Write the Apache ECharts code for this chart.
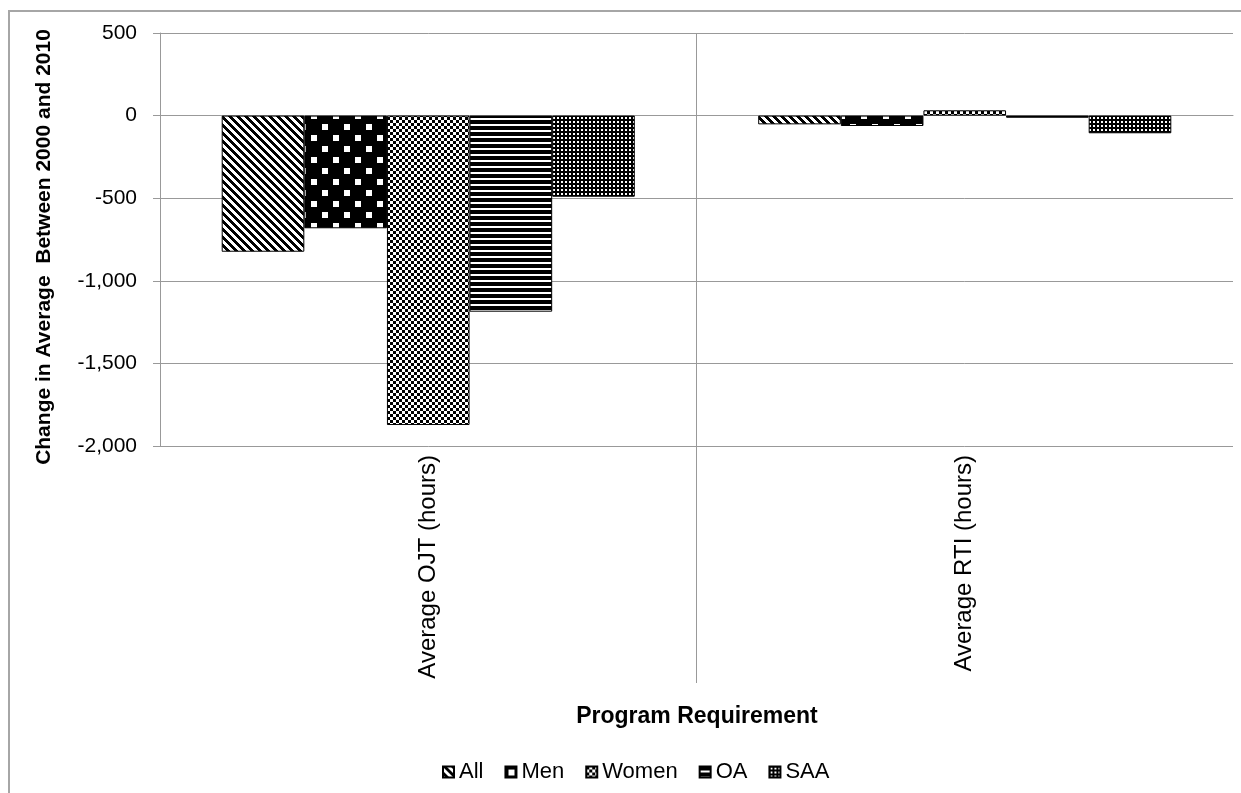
<!DOCTYPE html>
<html>
<head>
<meta charset="utf-8">
<script src="https://cdn.jsdelivr.net/npm/echarts@6/dist/echarts.min.js"></script>
<style>
html,body{margin:0;padding:0;background:#fff;}
#chart{width:1241px;height:793px;}
</style>
</head>
<body>
<div id="chart"></div>
<script>
const categories = ['Average OJT (hours)', 'Average RTI (hours)'];
const seriesNames = ['All', 'Men', 'Women', 'OA', 'SAA'];
const allValues = [-824, -53];
const menValues = [-682, -63];
const womenValues = [-1873, 32];
const oaValues = [-1187, -13];
const saaValues = [-491, -107];
const yTicks = { min: -2000, max: 500, interval: 500 };
const yTitle = 'Change in Average  Between 2000 and 2010';
const xTitle = 'Program Requirement';

function makeTile(w, h, fn) {
  const c = document.createElement('canvas');
  c.width = w; c.height = h;
  const ctx = c.getContext('2d');
  ctx.fillStyle = '#fff';
  ctx.fillRect(0, 0, w, h);
  ctx.fillStyle = '#000';
  fn(ctx, w, h);
  return c;
}
const patAll = makeTile(8, 8, (ctx) => {
  for (let y = 0; y < 8; y++) for (let x = 0; x < 8; x++) {
    if (((x - y) % 8 + 8) % 8 < 4) ctx.fillRect(x, y, 1, 1);
  }
});
const patMen = makeTile(22, 22, (ctx) => {
  ctx.fillRect(0, 0, 22, 22);
  ctx.fillStyle = '#fff';
  ctx.fillRect(3, 3, 6, 6);
  ctx.fillRect(14, 14, 6, 6);
});
const patWomen = makeTile(6, 6, (ctx) => {
  for (let y = 0; y < 6; y++) for (let x = 0; x < 6; x++) {
    if ((Math.floor(x / 3) + Math.floor(y / 3)) % 2 === 0) ctx.fillRect(x, y, 1, 1);
  }
});
const patOA = makeTile(6, 6, (ctx) => { ctx.fillRect(0, 0, 6, 4); });
const patSAA = makeTile(4, 4, (ctx) => {
  ctx.fillRect(0, 0, 4, 4);
  ctx.fillStyle = '#fff';
  ctx.fillRect(1, 1, 2, 2);
});
const patterns = [patAll, patMen, patWomen, patOA, patSAA];
const values = [allValues, menValues, womenValues, oaValues, saaValues];

const chart = echarts.init(document.getElementById('chart'));
const font = '"Liberation Sans", Arial, sans-serif';

const series = seriesNames.map((name, i) => ({
  name: name,
  type: 'bar',
  data: values[i],
  barGap: '0%',
  barCategoryGap: '23%',
  itemStyle: {
    color: { image: patterns[i], repeat: 'repeat' },
    borderColor: '#000',
    borderWidth: 1
  },
  emphasis: { disabled: true }
}));

chart.setOption({
  animation: false,
  textStyle: { fontFamily: font },
  grid: { left: 160, right: 8, top: 33, bottom: 347, containLabel: false },
  legend: {
    data: seriesNames,
    top: 756,
    left: 437,
    icon: 'rect',
    itemWidth: 11,
    itemHeight: 11,
    itemGap: 21,
    textStyle: { fontSize: 22, color: '#000', fontFamily: font }
  },
  xAxis: {
    type: 'category',
    data: categories,
    axisLine: { show: true, lineStyle: { color: '#999', width: 1 } },
    axisTick: { show: false },
    axisLabel: { rotate: 90, fontSize: 24, color: '#000', margin: 9, fontFamily: font },
    splitLine: { show: false }
  },
  yAxis: {
    type: 'value',
    min: yTicks.min,
    max: yTicks.max,
    interval: yTicks.interval,
    axisLine: { show: true, lineStyle: { color: '#999', width: 1 } },
    axisTick: { show: true, inside: false, length: 7, lineStyle: { color: '#999' } },
    axisLabel: {
      fontSize: 21, color: '#000', margin: 23, fontFamily: font,
      formatter: (v) => v.toLocaleString('en-US')
    },
    splitLine: { show: true, lineStyle: { color: '#999', width: 1 } }
  },
  series: series
});

const p0 = chart.convertToPixel({ xAxisIndex: 0 }, categories[0]);
const p1 = chart.convertToPixel({ xAxisIndex: 0 }, categories[1]);
const sepX = Math.round((p0 + p1) / 2) - 0.5;
const topY = chart.convertToPixel({ yAxisIndex: 0 }, yTicks.max);
chart.setOption({
  graphic: [
    {
      type: 'rect', silent: true,
      shape: { x: 9, y: 11, width: 1400, height: 1000 },
      style: { fill: 'none', stroke: '#a6a6a6', lineWidth: 2 }
    },
    {
      type: 'line', silent: true,
      shape: { x1: sepX, y1: topY, x2: sepX, y2: 683 },
      style: { stroke: '#999', lineWidth: 1 }
    },
    {
      type: 'text', silent: true,
      x: 44, y: 247, rotation: Math.PI / 2,
      style: {
        text: yTitle, fill: '#000', font: 'bold 21px ' + font,
        align: 'center', verticalAlign: 'middle'
      }
    },
    {
      type: 'text', silent: true,
      x: 697, y: 717,
      style: {
        text: xTitle, fill: '#000', font: 'bold 23px ' + font,
        align: 'center', verticalAlign: 'middle'
      }
    }
  ]
});
</script>
</body>
</html>
